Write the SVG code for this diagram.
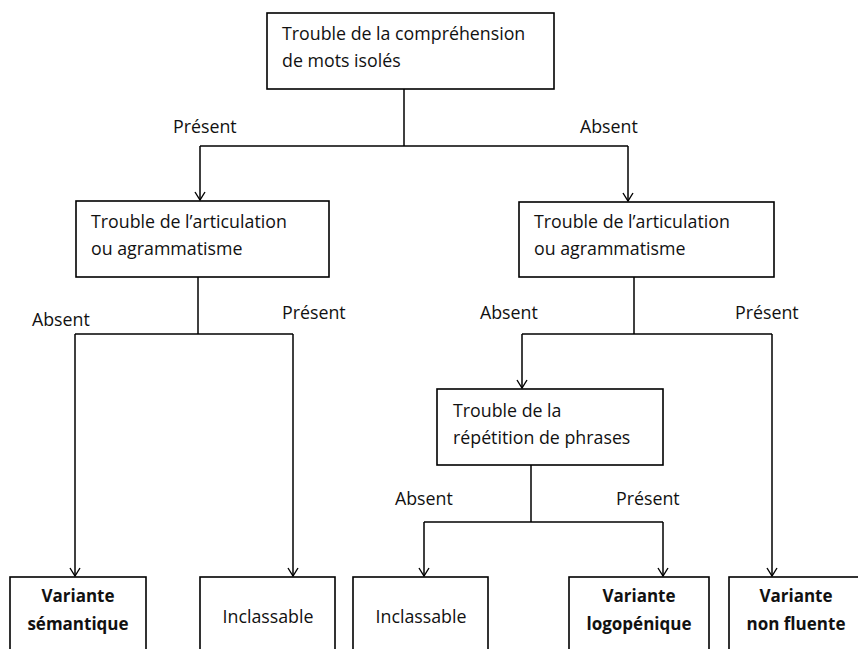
<svg xmlns="http://www.w3.org/2000/svg" width="858" height="649" viewBox="0 0 858 649">
<defs>
<style>
.box{fill:#fff;stroke:#000;stroke-width:1.6}
.ln{fill:none;stroke:#000;stroke-width:1.5}
.t{font-family:"Open Sans","Noto Sans","DejaVu Sans",sans-serif;font-size:17.8px;fill:#111}
.b{font-family:"Open Sans","Noto Sans","DejaVu Sans",sans-serif;font-size:17px;font-weight:bold;fill:#111;text-anchor:middle}
</style>
<marker id="arr" viewBox="0 0 10 12" refX="9" refY="6" markerWidth="10" markerHeight="12" markerUnits="userSpaceOnUse" orient="auto">
<path d="M1,1 L9,6 L1,11" fill="none" stroke="#000" stroke-width="1.4"/>
</marker>
</defs>
<rect width="858" height="649" fill="#fff"/>
<g id="connectors">
<path class="ln" d="M404,89 V146"/>
<path class="ln" d="M200,146 H628"/>
<path class="ln" d="M200,146 V200" marker-end="url(#arr)"/>
<path class="ln" d="M628,146 V201" marker-end="url(#arr)"/>
<path class="ln" d="M198,277 V334"/>
<path class="ln" d="M75,334 H293"/>
<path class="ln" d="M75,334 V576" marker-end="url(#arr)"/>
<path class="ln" d="M293,334 V576" marker-end="url(#arr)"/>
<path class="ln" d="M634,277 V334"/>
<path class="ln" d="M522,334 H772"/>
<path class="ln" d="M522,334 V388" marker-end="url(#arr)"/>
<path class="ln" d="M772,334 V576" marker-end="url(#arr)"/>
<path class="ln" d="M531,465 V522"/>
<path class="ln" d="M424,522 H663"/>
<path class="ln" d="M424,522 V576" marker-end="url(#arr)"/>
<path class="ln" d="M663,522 V576" marker-end="url(#arr)"/>
<text class="t" x="173" y="133">Présent</text>
<text class="t" x="580" y="133">Absent</text>
<text class="t" x="32" y="326">Absent</text>
<text class="t" x="282" y="319">Présent</text>
<text class="t" x="480" y="319">Absent</text>
<text class="t" x="735" y="319">Présent</text>
<text class="t" x="395" y="505">Absent</text>
<text class="t" x="616" y="505">Présent</text>
</g>
<g id="n-top">
<rect class="box" x="267" y="13" width="287" height="76"/>
<text class="t" x="282" y="40">Trouble de la compréhension</text>
<text class="t" x="282" y="67">de mots isolés</text>
</g>
<g id="n-left">
<rect class="box" x="76" y="201" width="253" height="76"/>
<text class="t" x="91" y="228">Trouble de l’articulation</text>
<text class="t" x="91" y="255">ou agrammatisme</text>
</g>
<g id="n-right">
<rect class="box" x="519" y="202" width="255" height="75"/>
<text class="t" x="534" y="228">Trouble de l’articulation</text>
<text class="t" x="534" y="255">ou agrammatisme</text>
</g>
<g id="n-rep">
<rect class="box" x="437" y="389" width="226" height="76"/>
<text class="t" x="453" y="417">Trouble de la</text>
<text class="t" x="453" y="444">répétition de phrases</text>
</g>
<g id="n-sem">
<rect class="box" x="10" y="577" width="136" height="80"/>
<text class="b" x="78" y="602">Variante</text>
<text class="b" x="78" y="630">sémantique</text>
</g>
<g id="n-incl1">
<rect class="box" x="200" y="577" width="135" height="80"/>
<text class="t" x="268" y="623" text-anchor="middle">Inclassable</text>
</g>
<g id="n-incl2">
<rect class="box" x="353" y="577" width="135" height="80"/>
<text class="t" x="421" y="623" text-anchor="middle">Inclassable</text>
</g>
<g id="n-logo">
<rect class="box" x="569" y="577" width="140" height="80"/>
<text class="b" x="639" y="602">Variante</text>
<text class="b" x="639" y="630">logopénique</text>
</g>
<g id="n-nf">
<rect class="box" x="729" y="577" width="140" height="80"/>
<text class="b" x="796" y="602">Variante</text>
<text class="b" x="796" y="630">non fluente</text>
</g>
</svg>
